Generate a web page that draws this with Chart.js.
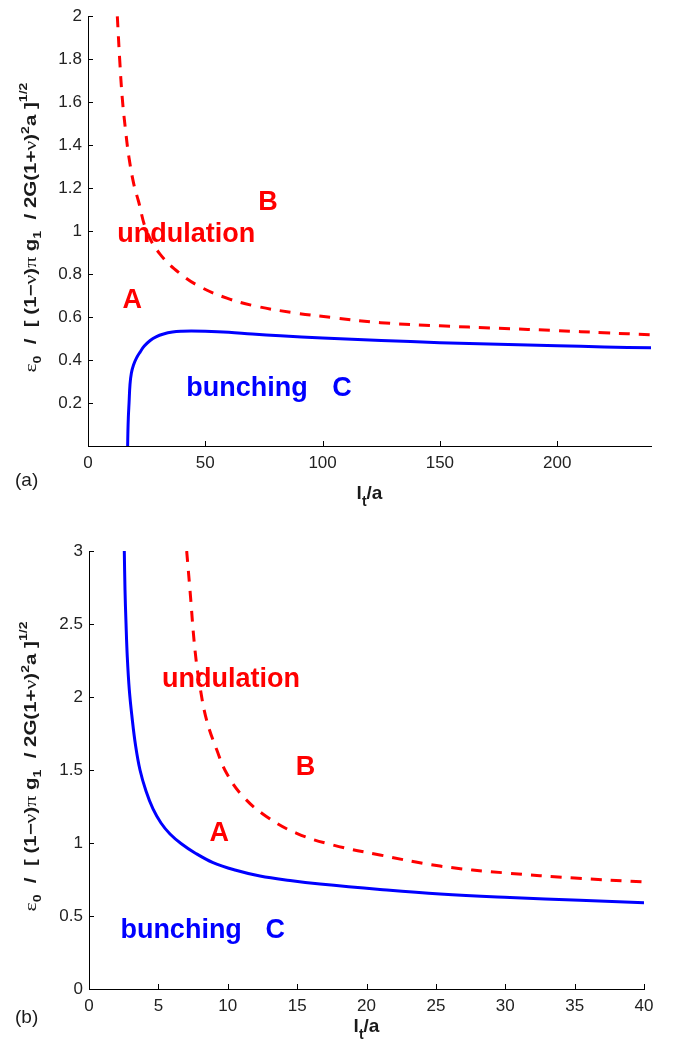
<!DOCTYPE html>
<html>
<head>
<meta charset="utf-8">
<script src="https://cdn.jsdelivr.net/npm/chart.js@4.4.0/dist/chart.umd.min.js"></script>
<style>
  html, body { margin: 0; padding: 0; background: #fff; }
  #wrap { position: relative; width: 674px; height: 1044px; }
  .panel { position: absolute; left: 0; width: 674px; height: 522px; }
</style>
</head>
<body>
<div id="wrap">
  <div class="panel" style="top:0"><canvas id="chartA" width="674" height="522"></canvas></div>
  <div class="panel" style="top:522px"><canvas id="chartB" width="674" height="522"></canvas></div>
</div>
<script>
// (a) top panel, l_t/a from 0 to 240
var aRedX  = [12.5, 13.5, 14.6, 16, 17.5, 19.5, 21.5, 25, 30.7, 39.3, 47.8, 59.2, 70.6, 87.7, 104.7, 124.7, 150, 175, 200, 220, 240];
var aRedY  = [2.0, 1.8, 1.62, 1.47, 1.34, 1.22, 1.14, 1.0, 0.893, 0.802, 0.741, 0.688, 0.653, 0.620, 0.597, 0.574, 0.559, 0.548, 0.537, 0.527, 0.518];
var aBlueX = [16.9, 17.0, 17.2, 17.5, 17.9, 18.5, 19.4, 20.7, 22.2, 24, 26.5, 29, 32.2, 36, 40, 44, 50, 60, 70, 82, 100, 125, 150, 175, 200, 220, 240];
var aBlueY = [0.0, 0.06, 0.134, 0.2, 0.286, 0.34, 0.377, 0.41, 0.437, 0.465, 0.491, 0.508, 0.521, 0.530, 0.534, 0.535, 0.534, 0.529, 0.521, 0.513, 0.503, 0.491, 0.481, 0.473, 0.467, 0.461, 0.457];
var aXTicks = [0, 50, 100, 150, 200];
var aYTicks = [0, 0.2, 0.4, 0.6, 0.8, 1, 1.2, 1.4, 1.6, 1.8, 2];
var aText = ['undulation', 'B', 'A', 'bunching', 'C'];
var aTextX = [41.9, 76.7, 18.9, 67.8, 108.3];
var aTextY = [0.951, 1.098, 0.642, 0.232, 0.232];

// (b) bottom panel, l_t/a from 0 to 40
var bRedX  = [7.04, 7.28, 7.64, 8.0, 8.48, 9.2, 9.92, 11.12, 12.81, 14.97, 17.6, 20.97, 25.3, 30, 35, 40];
var bRedY  = [3.0, 2.73, 2.32, 2.07, 1.84, 1.64, 1.477, 1.317, 1.18, 1.066, 0.986, 0.918, 0.842, 0.795, 0.76, 0.733];
var bBlueX = [2.544, 2.595, 2.667, 2.76, 2.905, 3.099, 3.351, 3.676, 4.108, 4.613, 5.189, 5.838, 6.631, 7.64, 8.937, 10.52, 12.32, 14.49, 16.65, 20.97, 25.3, 30.34, 35.39, 40];
var bBlueY = [3.0, 2.733, 2.507, 2.274, 2.048, 1.863, 1.671, 1.5, 1.356, 1.233, 1.137, 1.062, 0.997, 0.932, 0.866, 0.815, 0.774, 0.743, 0.719, 0.682, 0.651, 0.627, 0.608, 0.591];
var bXTicks = [0, 5, 10, 15, 20, 25, 30, 35, 40];
var bYTicks = [0, 0.5, 1, 1.5, 2, 2.5, 3];
var bText = ['undulation', 'B', 'A', 'bunching', 'C'];
var bTextX = [10.23, 15.6, 9.39, 6.64, 13.43];
var bTextY = [2.066, 1.466, 1.016, 0.347, 0.347];

var SANS = '"Liberation Sans", Arial, sans-serif';
var SERIF = '"Liberation Serif", "DejaVu Serif", serif';

// y title pieces: text, font, baseline shift
var yTitleParts = [
	['ε', '17px ' + SERIF, 0],
	['0', 'bold 11px ' + SANS, 5],
	['  /  [ (1−', 'bold 16px ' + SANS, 0],
	['ν', '17px ' + SERIF, 0],
	[')', 'bold 16px ' + SANS, 0],
	['π', '17px ' + SERIF, 0],
	[' g', 'bold 16px ' + SANS, 0],
	['1', 'bold 11px ' + SANS, 5],
	['  / 2G(1+', 'bold 16px ' + SANS, 0],
	['ν', '17px ' + SERIF, 0],
	[')', 'bold 16px ' + SANS, 0],
	['2', 'bold 11px ' + SANS, -7],
	['a ]', 'bold 16px ' + SANS, 0],
	['1/2', 'bold 11px ' + SANS, -9]
];
var xTitleParts = [
	['l', 'bold 19px ' + SANS, 0],
	['t', 'bold 14px ' + SANS, 7],
	['/a', 'bold 19px ' + SANS, 0]
];

function pairs(xs, ys) {
	return xs.map(function (x, i) { return { x: x, y: ys[i] }; });
}

function richText(ctx, parts, x, y, angle, length) {
	ctx.save();
	ctx.translate(x, y);
	ctx.rotate(angle);
	var total = 0;
	parts.forEach(function (p) { ctx.font = p[1]; total += ctx.measureText(p[0]).width; });
	if (length) ctx.scale(length / total, 1);
	ctx.textAlign = 'left';
	ctx.textBaseline = 'alphabetic';
	var cx = -total / 2;
	parts.forEach(function (p) {
		ctx.font = p[1];
		ctx.fillText(p[0], cx, p[2]);
		cx += ctx.measureText(p[0]).width;
	});
	ctx.restore();
}

var decor = {
	id: 'decor',
	afterDraw: function (chart, args, opts) {
		var ctx = chart.ctx, area = chart.chartArea;
		var xs = chart.scales.x, ys = chart.scales.y;
		ctx.save();
		// inward tick marks
		ctx.strokeStyle = '#000';
		ctx.lineWidth = 1;
		ctx.beginPath();
		xs.ticks.forEach(function (t) {
			var px = Math.round(xs.getPixelForValue(t.value)) + 0.5;
			ctx.moveTo(px, area.bottom);
			ctx.lineTo(px, area.bottom - 5);
		});
		ys.ticks.forEach(function (t) {
			var py = Math.round(ys.getPixelForValue(t.value)) + 0.5;
			ctx.moveTo(area.left, py);
			ctx.lineTo(area.left + 5, py);
		});
		ctx.stroke();

		// region names
		ctx.font = 'bold 27px ' + SANS;
		ctx.textAlign = 'center';
		ctx.textBaseline = 'alphabetic';
		opts.text.forEach(function (s, i) {
			ctx.fillStyle = (s === 'bunching' || s === 'C') ? '#0000ff' : '#ff0000';
			ctx.fillText(s, xs.getPixelForValue(opts.x[i]), ys.getPixelForValue(opts.y[i]));
		});

		// axis titles
		ctx.fillStyle = '#1a1a1a';
		richText(ctx, xTitleParts, (area.left + area.right) / 2, area.bottom + opts.xTitleGap, 0);
		richText(ctx, yTitleParts, 35.7, (area.top + area.bottom) / 2 - 3.5, -Math.PI / 2, 290);

		// panel tag
		ctx.font = '19px ' + SANS;
		ctx.textAlign = 'left';
		ctx.textBaseline = 'middle';
		ctx.fillText(opts.tag, 15, area.bottom + opts.tagGap);
		ctx.restore();
	}
};

function makeChart(id, c) {
	return new Chart(document.getElementById(id), {
		type: 'line',
		data: {
			datasets: [{
				data: pairs(c.redX, c.redY),
				borderColor: '#ff0000',
				borderWidth: 3,
				borderDash: [11, 9],
				pointRadius: 0,
				tension: 0.4,
				fill: false
			}, {
				data: pairs(c.blueX, c.blueY),
				borderColor: '#0000ff',
				borderWidth: 3,
				pointRadius: 0,
				tension: 0.4,
				fill: false
			}]
		},
		options: {
			responsive: false,
			animation: false,
			events: [],
			layout: { padding: c.padding },
			plugins: {
				legend: { display: false },
				tooltip: { enabled: false },
				decor: { text: c.text, x: c.textX, y: c.textY, tag: c.tag, xTitleGap: c.xTitleGap, tagGap: c.tagGap }
			},
			scales: {
				x: {
					type: 'linear',
					min: c.xMin,
					max: c.xMax,
					afterBuildTicks: function (s) { s.ticks = c.xTicks.map(function (v) { return { value: v }; }); },
					afterFit: function (s) { s.height = c.xHeight; },
					grid: { display: true, drawOnChartArea: false, drawTicks: false },
					border: { display: true, color: '#000', width: 1 },
					ticks: {
						autoSkip: false, maxRotation: 0, padding: 7, color: '#222',
						font: { family: SANS, size: 17 },
						callback: function (v) { return String(v); }
					}
				},
				y: {
					type: 'linear',
					min: c.yMin,
					max: c.yMax,
					afterBuildTicks: function (s) { s.ticks = c.yTicks.map(function (v) { return { value: v }; }); },
					afterFit: function (s) { s.width = c.yWidth; },
					grid: { display: true, drawOnChartArea: false, drawTicks: false },
					border: { display: true, color: '#000', width: 1 },
					ticks: {
						autoSkip: false, padding: 6, color: '#222',
						font: { family: SANS, size: 17 },
						callback: function (v) { return (v === 0 && c.hideZero) ? '' : String(v); }
					}
				}
			}
		},
		plugins: [decor]
	});
}

makeChart('chartA', {
	redX: aRedX, redY: aRedY, blueX: aBlueX, blueY: aBlueY,
	xTicks: aXTicks, yTicks: aYTicks, xMin: 0, xMax: 240, yMin: 0, yMax: 2, hideZero: true,
	text: aText, textX: aTextX, textY: aTextY, tag: '(a)',
	padding: { top: 7, right: 23, left: 0, bottom: 0 }, yWidth: 88, xHeight: 76,
	xTitleGap: 53, tagGap: 35
});

makeChart('chartB', {
	redX: bRedX, redY: bRedY, blueX: bBlueX, blueY: bBlueY,
	xTicks: bXTicks, yTicks: bYTicks, xMin: 0, xMax: 40, yMin: 0, yMax: 3, hideZero: false,
	text: bText, textX: bTextX, textY: bTextY, tag: '(b)',
	padding: { top: 29, right: 30, left: 0, bottom: 0 }, yWidth: 89, xHeight: 55,
	xTitleGap: 43, tagGap: 29
});
</script>
</body>
</html>
